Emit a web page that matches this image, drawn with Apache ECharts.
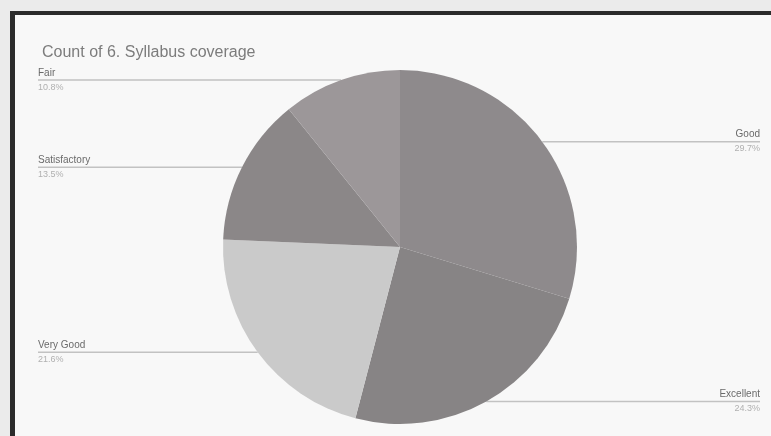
<!DOCTYPE html>
<html>
<head>
<meta charset="utf-8">
<script src="https://cdn.jsdelivr.net/npm/echarts@6/dist/echarts.min.js"></script>
<style>
html,body{margin:0;padding:0;width:771px;height:436px;overflow:hidden;background:#ebebeb;}
#frame{position:absolute;left:10px;top:11px;width:800px;height:500px;border-top:4px solid #2b2b2b;border-left:5px solid #2b2b2b;background:#f8f8f8;}
#chart{position:absolute;left:0;top:0;width:771px;height:436px;}
</style>
</head>
<body>
<div id="frame"></div>
<div id="chart"></div>
<script>
const titleText = 'Count of 6. Syllabus coverage';
const categories = ['Good', 'Excellent', 'Very Good', 'Satisfactory', 'Fair'];
const counts = [11, 9, 8, 5, 4];
const colors = ['#8e8a8c', '#878485', '#cacaca', '#8b8788', '#9c9799'];

const chart = echarts.init(document.getElementById('chart'), null, {renderer: 'canvas'});
const CX = 400;
const option = {
  animation: false,
  backgroundColor: 'transparent',
  title: {
    text: titleText, left: 37, top: 40,
    textStyle: {fontFamily: 'Liberation Sans', fontSize: 16, fontWeight: 'normal', color: '#7c7c7c'}
  },
  series: [{
    type: 'pie',
    center: [CX, 247],
    radius: 177,
    startAngle: 90,
    clockwise: true,
    data: categories.map((c, i) => ({name: c, value: counts[i], itemStyle: {color: colors[i]}})),
    label: {
      show: true,
      position: 'outside',
      formatter: p => '{n|' + p.name + '}\n{p|' + p.percent.toFixed(1) + '%}',
      rich: {
        n: {fontFamily: 'Liberation Sans', fontSize: 10, color: '#6a6a6a', lineHeight: 14},
        p: {fontFamily: 'Liberation Sans', fontSize: 9, color: '#b0b0b0', lineHeight: 14}
      }
    },
    labelLine: {show: true, length: 0, length2: 0, lineStyle: {color: '#c2c2c2', width: 1.5}},
    labelLayout: function (params) {
      const pts = params.labelLinePoints;
      if (!pts) return {};
      const p0 = pts[0];
      const left = p0[0] < CX;
      const ex = left ? 38 : 760;
      return {
        x: ex, y: p0[1], align: left ? 'left' : 'right', verticalAlign: 'middle',
        labelLinePoints: [[p0[0], p0[1]], [p0[0], p0[1]], [ex, p0[1]]]
      };
    }
  }]
};
chart.setOption(option);
</script>
</body>
</html>
